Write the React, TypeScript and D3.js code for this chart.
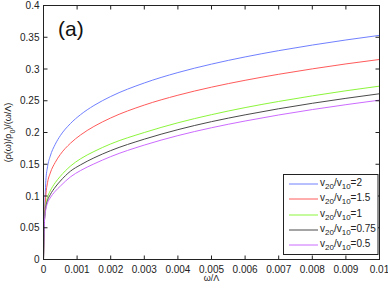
import React from "react";
import * as d3 from "d3";

const omega = [0, 0.00003, 0.00007, 0.00012, 0.0002, 0.00035, 0.0005, 0.0008, 0.0011, 0.0015, 0.002, 0.003, 0.004, 0.005, 0.006, 0.007, 0.008, 0.009, 0.01];
const sRatio2 = [0, 0.065, 0.124, 0.146, 0.1627, 0.1815, 0.195, 0.214, 0.228, 0.2425, 0.2567, 0.278, 0.2944, 0.3077, 0.319, 0.3289, 0.3377, 0.3457, 0.353];
const sRatio15 = [0, 0.062, 0.101, 0.121, 0.136, 0.153, 0.1654, 0.183, 0.196, 0.2095, 0.2229, 0.2432, 0.2587, 0.2714, 0.2822, 0.2917, 0.3002, 0.308, 0.315];
const sRatio1 = [0, 0.062, 0.086, 0.098, 0.108, 0.121, 0.131, 0.147, 0.1585, 0.17, 0.182, 0.2, 0.2153, 0.2281, 0.2392, 0.2489, 0.2577, 0.2657, 0.273];
const sRatio075 = [0, 0.062, 0.082, 0.093, 0.102, 0.114, 0.1235, 0.139, 0.149, 0.16, 0.1715, 0.1895, 0.2045, 0.2171, 0.2278, 0.2374, 0.246, 0.2538, 0.261];
const sRatio05 = [0, 0.062, 0.079, 0.089, 0.097, 0.1075, 0.1155, 0.13, 0.14, 0.1505, 0.162, 0.1802, 0.1951, 0.2075, 0.2181, 0.2276, 0.2361, 0.2438, 0.251];

const seriesLabels = ["2", "1.5", "1", "0.75", "0.5"];
const seriesColors = ["#7080ff", "#ff5a5a", "#8cf53c", "#4a4a4a", "#cc6bff"];
const seriesValues = [sRatio2, sRatio15, sRatio1, sRatio075, sRatio05];

const xTicks = [0, 0.001, 0.002, 0.003, 0.004, 0.005, 0.006, 0.007, 0.008, 0.009, 0.01];
const xTickLabels = ["0", "0.001", "0.002", "0.003", "0.004", "0.005", "0.006", "0.007", "0.008", "0.009", "0.01"];
const yTicks = [0, 0.05, 0.1, 0.15, 0.2, 0.25, 0.3, 0.35, 0.4];
const yTickLabels = ["0", "0.05", "0.1", "0.15", "0.2", "0.25", "0.3", "0.35", "0.4"];

export default function App() {
  const W = 388, H = 292;
  const left = 43.5, right = 379.5, top = 5.5, bottom = 259.5;
  const x = d3.scaleLinear().domain([0, 0.01]).range([left, right]);
  const y = d3.scaleLinear().domain([0, 0.4]).range([bottom, top]);
  const line = d3.line<number>()
    .x((_, i) => x(omega[i]))
    .y((d) => y(d))
    .curve(d3.curveMonotoneX);
  const font = "'Liberation Sans', Arial, sans-serif";
  const tl = 4;
  const axisColor = "#222";
  const lgX = 283.5, lgY = 174.5, lgW = 94.5, lgH = 80;
  return (
    <svg width={W} height={H} style={{ position: "absolute", left: 0, top: 0, background: "#fff" }} fontFamily={font}>
      <rect x={0} y={0} width={W} height={H} fill="#fff" />
      {seriesValues.map((vals, i) => (
        <path key={i} d={line(vals) || ""} fill="none" stroke={seriesColors[i]} strokeWidth={1} />
      ))}
      <rect x={left} y={top} width={right - left} height={bottom - top} fill="none" stroke={axisColor} strokeWidth={1} />
      {xTicks.map((t, i) => (
        <g key={"x" + i}>
          <line x1={x(t)} x2={x(t)} y1={bottom} y2={bottom - tl} stroke={axisColor} />
          <line x1={x(t)} x2={x(t)} y1={top} y2={top + tl} stroke={axisColor} />
          <text x={x(t)} y={bottom + 13} fontSize={10} textAnchor="middle" fill="#222">{xTickLabels[i]}</text>
        </g>
      ))}
      {yTicks.map((t, i) => (
        <g key={"y" + i}>
          <line x1={left} x2={left + tl} y1={y(t)} y2={y(t)} stroke={axisColor} />
          <line x1={right} x2={right - tl} y1={y(t)} y2={y(t)} stroke={axisColor} />
          <text x={left - 4} y={y(t) + 3.5} fontSize={10} textAnchor="end" fill="#222">{yTickLabels[i]}</text>
        </g>
      ))}
      <text x={(left + right) / 2} y={281} fontSize={9} textAnchor="middle" fill="#222">ω/Λ</text>
      <text transform={`translate(11, ${(top + bottom) / 2}) rotate(-90)`} fontSize={9} textAnchor="middle" fill="#222">
        (ρ(ω)/ρ<tspan baselineShift="sub" fontSize={7}>0</tspan>)/(ω/Λ)
      </text>
      <text x={58} y={36} fontSize={21} fill="#111">(a)</text>
      <rect x={lgX} y={lgY} width={lgW} height={lgH} fill="#fff" stroke={axisColor} strokeWidth={1} />
      {seriesLabels.map((lab, i) => {
        const cy = Math.round(183.7 + i * 15.4);
        return (
          <g key={"l" + i}>
            <line x1={289} x2={318} y1={cy} y2={cy} stroke={seriesColors[i]} strokeWidth={1} />
            <text x={320} y={cy + 2} fontSize={10} fill="#222">
              v<tspan dy={3} fontSize={8}>20</tspan><tspan dy={-3}>/v</tspan><tspan dy={3} fontSize={8}>10</tspan><tspan dy={-3}>={lab}</tspan>
            </text>
          </g>
        );
      })}
    </svg>
  );
}
